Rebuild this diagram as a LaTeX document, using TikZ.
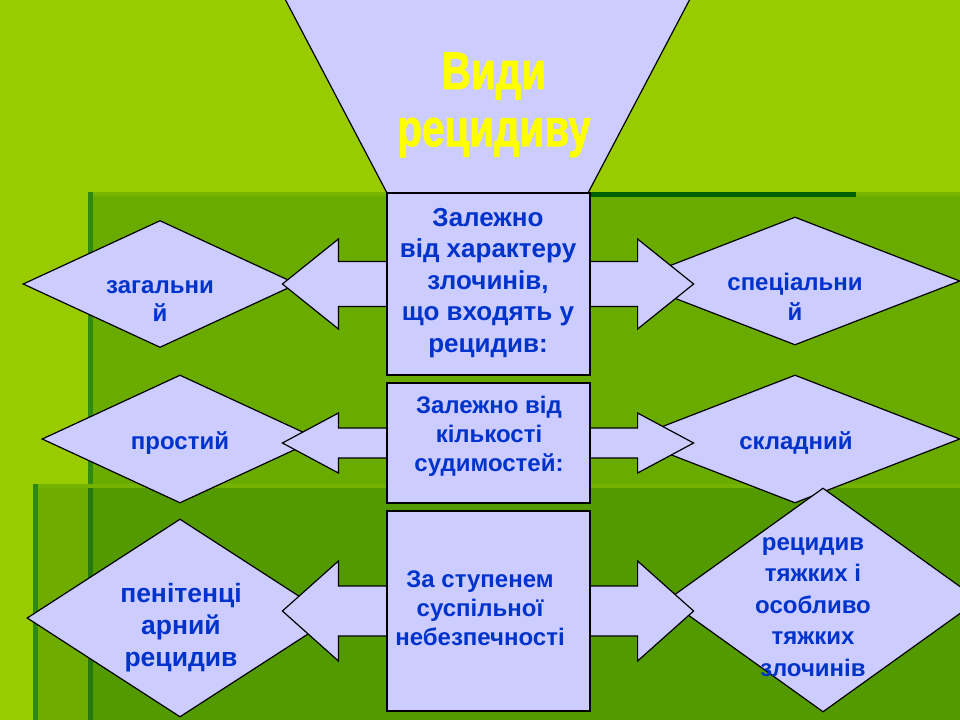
\documentclass[tikz,border=0pt]{standalone}
\usepackage{fontspec}
\setmainfont{Liberation Sans}
\newfontface\titleface[FakeBold=1.6]{Liberation Sans Bold}
\usepackage{graphicx}
\usetikzlibrary{shapes.geometric,calc}
\definecolor{limebg}{RGB}{153,204,0}
\definecolor{midbg}{RGB}{106,171,0}
\definecolor{bevel}{RGB}{47,138,18}
\definecolor{topbevel}{RGB}{118,182,0}
\definecolor{darkline}{RGB}{0,96,0}
\definecolor{lowlime}{RGB}{110,172,0}
\definecolor{lowmid}{RGB}{82,154,0}
\definecolor{lowbevel}{RGB}{38,120,14}
\definecolor{boxfill}{RGB}{204,204,255}
\definecolor{txtblue}{RGB}{0,51,204}
\definecolor{titleyellow}{RGB}{255,255,0}
\newcommand{\myarrL}[2]{\draw[blk] ($(#1.west)+(4,-#2)$) -- ++(-52,0) -- ++(0,-#2) -- ++(-56,{2*#2}) -- ++(56,{2*#2}) -- ++(0,-#2) -- ++(52,0) -- cycle;}
\newcommand{\myarrR}[2]{\draw[blk] ($(#1.east)+(-4,-#2)$) -- ++(51,0) -- ++(0,-#2) -- ++(56,{2*#2}) -- ++(-56,{2*#2}) -- ++(0,-#2) -- ++(-51,0) -- cycle;}
\begin{document}
\begin{tikzpicture}[x=1pt,y=-1pt,
  shapebase/.style={draw=black,line width=1.2pt,fill=boxfill,line join=miter},
  blk/.style={shapebase},
  dia/.style={shapebase,diamond,inner sep=0pt},
  catbox/.style={shapebase,rectangle,inner sep=0pt,minimum width=203pt},
  txt/.style={text=txtblue,font=\bfseries\fontsize{24}{30}\selectfont,align=center,inner sep=0pt}
]
\useasboundingbox (0,0) rectangle (960,720);
\clip (0,0) rectangle (960,720);
% background
\fill[limebg] (0,0) rectangle (960,720);
\fill[midbg] (88,192) rectangle (960,720);
\fill[topbevel] (88,192) rectangle (960,196);
\fill[bevel] (88,192) rectangle (93,720);
\fill[darkline] (588,192) rectangle (856,197);
\fill[lowlime] (33,484) rectangle (88,720);
\fill[lowmid] (88,484) rectangle (960,720);
\fill[lowbevel] (88,484) rectangle (93,720);
\fill[topbevel!80!lowlime] (33,484) rectangle (960,488);
\fill[bevel] (33,484) rectangle (38,720);
% title trapezoid
\draw[shapebase] (285,-1) -- (690,-1) -- (588,193) -- (387,193) -- cycle;
\node[anchor=base,text=titleyellow,inner sep=0pt] (title) at (494,89)
  {\scalebox{0.84}[1.1]{\fontsize{48}{52}\titleface
   \begin{tabular}[t]{@{}c@{}}Види\\рецидиву\end{tabular}}};
% diamonds
\node[dia,minimum width=274pt,minimum height=127pt] (d1) at (160,284) {};
\node[dia,minimum width=330pt,minimum height=128pt] (d2) at (795,281) {};
\node[dia,minimum width=276pt,minimum height=128pt] (d3) at (180,439) {};
\node[dia,minimum width=330pt,minimum height=128pt] (d4) at (795,439) {};
\node[dia,minimum width=306pt,minimum height=198pt] (d5) at (180,618) {};
\node[dia,minimum width=312pt,minimum height=224pt] (d6) at (823,600) {};
% category boxes (positions)
\coordinate (b1c) at (488.5,284);
\coordinate (b2c) at (488.5,443);
\coordinate (b3c) at (488.5,611);
\path (b1c) node[catbox,draw=none,fill=none,minimum height=182pt] (b1p) {};
\path (b2c) node[catbox,draw=none,fill=none,minimum height=120pt] (b2p) {};
\path (b3c) node[catbox,draw=none,fill=none,minimum height=200pt] (b3p) {};
% arrows
\myarrL{b1p}{22.5}
\myarrR{b1p}{22.5}
\myarrL{b2p}{15}
\myarrR{b2p}{15}
\myarrL{b3p}{25}
\myarrR{b3p}{25}
% boxes
\node[catbox,minimum height=182pt] (b1) at (b1c) {};
\node[catbox,minimum height=120pt] (b2) at (b2c) {};
\node[catbox,minimum height=200pt] (b3) at (b3c) {};
% texts
\node[txt,font=\bfseries\fontsize{26}{31.5}\selectfont] (t1) at (488,283) {Залежно\\від характеру\\злочинів,\\що входять у\\рецидив:};
\node[txt,font=\bfseries\fontsize{24}{29}\selectfont] (t2) at (489,436) {Залежно від\\кількості\\судимостей:};
\node[txt,font=\bfseries\fontsize{24}{29}\selectfont] (t3) at (480,608) {За ступенем\\суспільної\\небезпечності};
\node[txt,font=\bfseries\fontsize{24}{28.5}\selectfont] (td1) at (160,301) {загальни\\й};
\node[txt,font=\bfseries\fontsize{24}{30.5}\selectfont] (td2) at (795,297) {спеціальни\\й};
\node[txt] (td3) at (180,443) {простий};
\node[txt] (td4) at (796,443) {складний};
\node[txt,font=\bfseries\fontsize{26.5}{32}\selectfont] (td5) at (181,628) {пенітенці\\арний\\рецидив};
\node[txt,font=\bfseries\fontsize{24}{31.5}\selectfont] (td6) at (813,607) {рецидив\\тяжких і\\особливо\\тяжких\\злочинів};
\end{tikzpicture}
\end{document}
